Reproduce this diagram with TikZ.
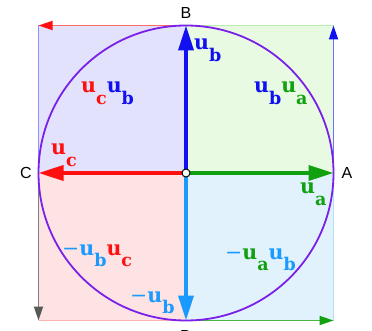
\documentclass[tikz,border=0pt]{standalone}
\usepackage{fontspec}
\setmainfont{DejaVu Serif}
\newfontfamily\labfont{Liberation Sans}
\usetikzlibrary{arrows.meta}
\definecolor{cQUL}{HTML}{E2E2FC}
\definecolor{cQUR}{HTML}{E8FAE2}
\definecolor{cQLL}{HTML}{FDE3E3}
\definecolor{cQLR}{HTML}{E2F2FD}
\definecolor{cBlue}{HTML}{1010F0}
\definecolor{cRed}{HTML}{FF1010}
\definecolor{cGreen}{HTML}{10A010}
\definecolor{cLBlue}{HTML}{1A9AFF}
\definecolor{cPurple}{HTML}{7A20E8}
\definecolor{eRed}{HTML}{FF6A6A}
\definecolor{eLGreen}{HTML}{B8EEAE}
\definecolor{eBlue}{HTML}{6E6EFF}
\definecolor{eCyan}{HTML}{B4E0FC}
\definecolor{eGreen}{HTML}{48B448}
\definecolor{ePink}{HTML}{FFB0B0}
\definecolor{eGray}{HTML}{808080}
\definecolor{eLav}{HTML}{9090FF}
\newcommand{\uvec}[1]{\textcolor{#1}{u}}
\newcommand{\usub}[2]{\raisebox{-11.5pt}{\fontsize{17.5}{17.5}\selectfont\textcolor{#1}{#2}}}
\tikzset{
  vlab/.style={font=\fontsize{20.5}{20.5}\selectfont\bfseries, inner sep=0pt},
  ptlab/.style={font=\labfont\fontsize{16}{16}\selectfont, inner sep=0pt},
  bigarrow/.style={line width=3.6pt, -{Triangle[length=25pt,width=15pt]}},
  edgeplain/.style={line width=1.8pt},
  edgearrow/.style args={#1 and #2}{line width=1.8pt, draw=#1, -{Triangle[length=14pt,width=9pt,color=#2]}},
}
\begin{document}
\begin{tikzpicture}[x=1pt,y=-1pt]
\useasboundingbox (0,0) rectangle (372,331);
\fill[white] (0,0) rectangle (372,331);
\coordinate (O) at (186,173);
\coordinate (A) at (333.5,173);
\coordinate (B) at (186,25.5);
\coordinate (C) at (38.5,173);
\coordinate (D) at (186,320.5);
\coordinate (NE) at (333.5,25.5);
\coordinate (NW) at (38.5,25.5);
\coordinate (SW) at (38.5,320.5);
\coordinate (SE) at (333.5,320.5);
% quadrant fills
\fill[cQUL] (O) rectangle (NW);
\fill[cQUR] (O) rectangle (NE);
\fill[cQLL] (O) rectangle (SW);
\fill[cQLR] (O) rectangle (SE);
% square edges
\draw[edgeplain, eLGreen] (B) -- (NE);
\draw[edgeplain, eCyan] (A) -- (SE);
\draw[edgeplain, ePink] (D) -- (SW);
\draw[edgeplain, eLav] (C) -- (NW);
\draw[edgearrow={eRed and cRed}] (B) -- (NW);
\draw[edgearrow={eBlue and cBlue}] (A) -- (NE);
\draw[edgearrow={eGreen and cGreen}] (D) -- (SE);
\draw[edgearrow={eGray and black!65}] (C) -- (SW);
% circle
\draw[cPurple, line width=1.8pt] (O) circle (147.5);
% main vectors
\draw[bigarrow, cBlue] (O) -- (B);
\draw[bigarrow, cRed] (O) -- (C);
\draw[bigarrow, cGreen] (O) -- (A);
\draw[bigarrow, cLBlue] (O) -- (D);
\filldraw[fill=white, draw=black, line width=1pt] (O) circle (4);
% point labels
\node[ptlab] (lB) at (186,13) {B};
\node[ptlab] (lA) at (347,173) {A};
\node[ptlab] (lC) at (26,173) {C};
\node[ptlab] (lD) at (186,336) {D};
% vector labels
\node[vlab, anchor=base west] (tub) at (194,50) {\uvec{cBlue}\usub{cBlue}{b}};
\node[vlab, anchor=base west] (tucub) at (81,93) {\uvec{cRed}\usub{cRed}{c}\uvec{cBlue}\usub{cBlue}{b}};
\node[vlab, anchor=base west] (tubua) at (254,93) {\uvec{cBlue}\usub{cBlue}{b}\uvec{cGreen}\usub{cGreen}{a}};
\node[vlab, anchor=base west] (tuc) at (51,155) {\uvec{cRed}\usub{cRed}{c}};
\node[vlab, anchor=base west] (tua) at (300,194) {\uvec{cGreen}\usub{cGreen}{a}};
\node[vlab, anchor=base west] (tmubuc) at (62,255) {\textcolor{cLBlue}{\mdseries −}\uvec{cLBlue}\usub{cLBlue}{b}\uvec{cRed}\usub{cRed}{c}};
\node[vlab, anchor=base west] (tmuaub) at (225,259) {\textcolor{cLBlue}{\mdseries −}\uvec{cGreen}\usub{cGreen}{a}\uvec{cLBlue}\usub{cLBlue}{b}};
\node[vlab, anchor=base west] (tmub) at (130,302) {\textcolor{cLBlue}{\mdseries −}\uvec{cLBlue}\usub{cLBlue}{b}};
\end{tikzpicture}
\end{document}
